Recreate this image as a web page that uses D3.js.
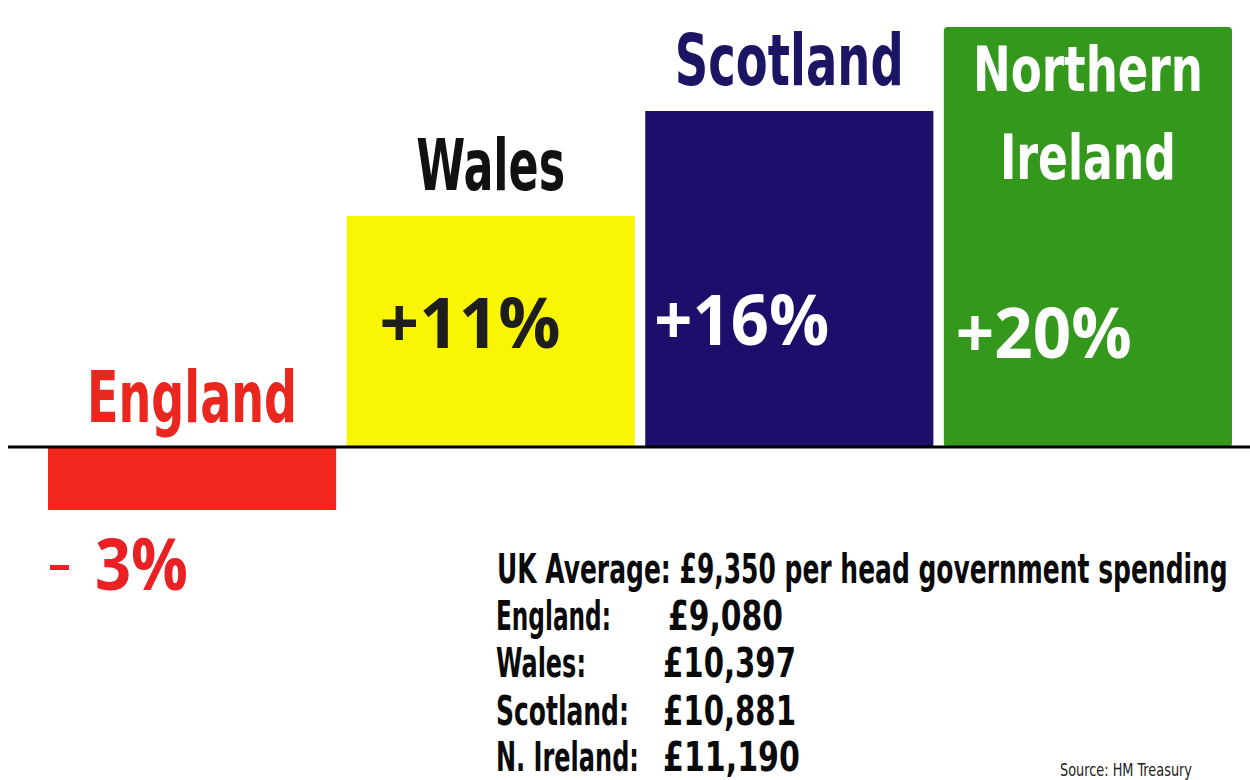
<!DOCTYPE html>
<html>
<head>
<meta charset="utf-8">
<script src="https://cdn.jsdelivr.net/npm/d3@7"></script>
<style>
  html, body { margin: 0; padding: 0; background: #ffffff; }
  svg { display: block; }
</style>
</head>
<body>
<svg id="chart" width="1250" height="780"></svg>
<script>
// Change in per-head government spending relative to the UK average
const regions = ["England", "Wales", "Scotland", "Northern Ireland"];
const changePct = [-3, 11, 16, 20];
const valueLabels = ["3%", "+11%", "+16%", "+20%"];
const barColors = ["#f2261c", "#faf503", "#1c0e6b", "#34981d"];
const nameColors = ["#e9271f", "#111111", "#1b1563", "#ffffff"];
const pctColors = ["#ea2024", "#1e1e1e", "#ffffff", "#ffffff"];

// Spending per head table
const tableHeader = "UK Average: £9,350 per head government spending";
const tableNames = ["England:", "Wales:", "Scotland:", "N. Ireland:"];
const tableValues = ["£9,080", "£10,397", "£10,881", "£11,190"];
const sourceText = "Source: HM Treasury";

const svg = d3.select("#chart");
const condensed = "'Liberation Sans Narrow', 'DejaVu Sans Condensed', 'Roboto', sans-serif";
const rounded = "'Open Sans', 'Noto Sans', sans-serif";

const x = d3.scaleBand().domain(regions).range([48, 1232]).paddingInner(0.035);
const y = d3.scaleLinear().domain([-3, 20]).range([447 + 3 * 21, 447 - 20 * 21]);

// Places a text and squeezes it horizontally to a given width
function fitText(parent, str, px, py, width, opts) {
  const g = parent.append("g");
  const t = g.append("text")
    .attr("font-family", opts.family)
    .attr("font-weight", opts.weight || 700)
    .attr("font-size", opts.size)
    .attr("fill", opts.fill)
    .text(str);
  const len = t.node().getComputedTextLength();
  const sx = width / len;
  const left = opts.anchor === "middle" ? px - width / 2 : px;
  g.attr("transform", `translate(${left},${py}) scale(${sx},1)`);
  return g;
}

// Bars
svg.append("g").selectAll("rect")
  .data(regions)
  .join("rect")
  .attr("x", d => x(d))
  .attr("width", x.bandwidth())
  .attr("y", (d, i) => Math.min(y(changePct[i]), y(0)))
  .attr("height", (d, i) => Math.abs(y(changePct[i]) - y(0)))
  .attr("rx", (d, i) => i === 3 ? 4 : 0)
  .attr("fill", (d, i) => barColors[i]);

// Zero line
svg.append("line")
  .attr("x1", 8).attr("x2", 1250)
  .attr("y1", y(0)).attr("y2", y(0))
  .attr("stroke", "#000").attr("stroke-width", 3);

// Region names
const nameG = svg.append("g");
regions.forEach((r, i) => {
  const cx = x(r) + x.bandwidth() / 2;
  const v = changePct[i];
  if (i === 3) {
    const top = y(v);
    [["Northern", 230, 64], ["Ireland", 176, 152]].forEach(([t, w, dy]) => {
      fitText(nameG, t, cx, top + dy, w,
        { family: condensed, size: 62, fill: nameColors[i], anchor: "middle" });
    });
  } else {
    const widths = [210, 149, 229];
    const baseY = v < 0 ? y(0) - 25 : y(v) - 26;
    fitText(nameG, r, cx, baseY, widths[i],
      { family: condensed, size: 71, fill: nameColors[i], anchor: "middle" });
  }
});

// Percentage labels
const pctG = svg.append("g");
regions.forEach((r, i) => {
  const v = changePct[i];
  if (v < 0) {
    // minus dash drawn as a short bar to the left of the number
    pctG.append("rect")
      .attr("x", x(r) + 2).attr("y", y(v) + 55)
      .attr("width", 19).attr("height", 5)
      .attr("fill", pctColors[i]);
    fitText(pctG, valueLabels[i], x(r) + 47, y(v) + 80, 93,
      { family: rounded, size: 72, fill: pctColors[i] });
  } else {
    const offs = [[33, 348, 181], [9, 345, 175], [12, 358, 176]][i - 1];
    fitText(pctG, valueLabels[i], x(r) + offs[0], offs[1], offs[2],
      { family: rounded, size: 70, fill: pctColors[i] });
  }
});

// Spending table
const tbl = svg.append("g");
const tOpts = { family: condensed, size: 41, fill: "#0a0a0a" };
fitText(tbl, tableHeader, 497, 583, 731, tOpts);
const rowY = [630, 677, 725, 771];
const nameW = [115, 90, 133, 143];
const valX = [668, 663, 663, 663];
const valW = [115, 133, 133, 137];
tableNames.forEach((n, i) => {
  fitText(tbl, n, 496, rowY[i], nameW[i], tOpts);
  fitText(tbl, tableValues[i], valX[i], rowY[i], valW[i], tOpts);
});

fitText(svg, sourceText, 1060, 776, 132,
  { family: condensed, weight: 400, size: 17, fill: "#222" });
</script>
</body>
</html>
